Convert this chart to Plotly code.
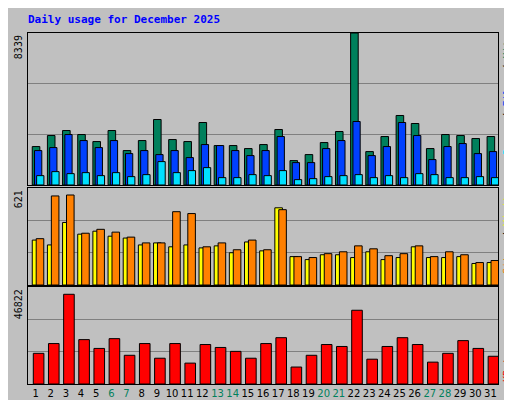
"""Webalizer style daily usage chart"""
import plotly.graph_objs as go

days = list(range(1, 32))
weekend = [6, 7, 13, 14, 20, 21, 27, 28]

hits = [2108, 2713, 2988, 2768, 2383, 2988, 1888, 2438, 3593, 2493, 2383, 3428, 2163, 2163, 1998, 2218,
        3043, 1338, 1668, 2328, 2933, 8339, 1833, 2658, 3813, 3373, 1998, 2768, 2713, 2548, 2658]
files = [1888, 2053, 2768, 2438, 2053, 2438, 1723, 1888, 1668, 1888, 1503, 2218, 2163, 1888, 1613, 1888,
         2658, 1228, 1228, 1998, 2438, 3483, 1613, 2108, 3428, 2713, 1393, 2108, 2273, 1723, 1833]
pages = [513, 733, 623, 678, 513, 678, 458, 568, 1283, 678, 788, 953, 403, 403, 568, 513,
         788, 293, 348, 458, 513, 568, 403, 513, 403, 623, 568, 403, 403, 458, 403]
visits = [288, 257, 401, 326, 345, 313, 301, 257, 270, 245, 257, 238, 251, 207, 276, 219,
          495, 182, 163, 194, 194, 176, 213, 163, 176, 245, 176, 176, 182, 138, 144]
sites = [297, 571, 577, 332, 357, 339, 307, 270, 270, 470, 458, 245, 270, 226, 288, 226,
         483, 182, 176, 201, 213, 251, 232, 188, 201, 251, 182, 213, 194, 144, 157]
kbytes = [14820, 19550, 43360, 21450, 17190, 21920, 13880, 19550, 12460, 19550, 10090, 19080, 17660, 15770,
          12460, 19550, 22390, 8200, 13880, 19080, 18130, 35640, 11990, 18130, 22390, 19080, 10570, 14820,
          20970, 17190, 13400]

max_hits = 8339
max_visits = 621
max_kb = 46822

tick_text = ['<span style="color:#00805C">%d</span>' % d if d in weekend else str(d) for d in days]

line = dict(color='black', width=1)
fig = go.Figure()
fig.add_trace(go.Bar(x=days, y=hits, offset=-0.22, width=0.5, marker=dict(color='#00805C', line=line),
                     xaxis='x', yaxis='y'))
fig.add_trace(go.Bar(x=days, y=files, offset=-0.07, width=0.48, marker=dict(color='#0040FF', line=line),
                     xaxis='x', yaxis='y'))
fig.add_trace(go.Bar(x=days, y=pages, offset=0.07, width=0.48, marker=dict(color='#00E0FF', line=line),
                     xaxis='x', yaxis='y'))
fig.add_trace(go.Bar(x=days, y=visits, offset=-0.22, width=0.5, marker=dict(color='#FFFF00', line=line),
                     xaxis='x2', yaxis='y2'))
fig.add_trace(go.Bar(x=days, y=sites, offset=0.04, width=0.5, marker=dict(color='#FF8000', line=line),
                     xaxis='x2', yaxis='y2'))
fig.add_trace(go.Bar(x=days, y=kbytes, offset=-0.15, width=0.7, marker=dict(color='#FF0000', line=line),
                     xaxis='x3', yaxis='y3'))

font = dict(family='DejaVu Sans Mono', size=10, color='black')
xbase = dict(range=[0.5, 31.5], showgrid=False, zeroline=False, showline=True, linecolor='black',
             mirror=True, ticks='', fixedrange=True, automargin=False)


def yax(mx, dom):
    return dict(domain=dom, range=[0, mx], tickvals=[mx / 3, mx * 2 / 3], showticklabels=False,
                gridcolor='#808080', zeroline=False, showline=True, linecolor='black', mirror=True,
                automargin=False)


fig.update_layout(
    width=512, height=400, showlegend=False, barmode='overlay',
    paper_bgcolor='#C0C0C0', plot_bgcolor='#C0C0C0', font=font,
    margin=dict(l=20, r=22, t=25, b=24),
    xaxis=dict(xbase, anchor='y', showticklabels=False),
    xaxis2=dict(xbase, anchor='y2', showticklabels=False),
    xaxis3=dict(xbase, anchor='y3', tickvals=days, ticktext=tick_text, tickangle=0,
                tickfont=dict(family='DejaVu Sans', size=10)),
    yaxis=yax(max_hits, [0.567, 1.0]),
    yaxis2=yax(max_visits, [0.282, 0.558]),
    yaxis3=yax(max_kb, [0.0, 0.276]),
    annotations=[
        dict(text='<b>Daily usage for December 2025</b>', x=-0.005, y=1.015, xref='paper', yref='paper',
             xanchor='left', yanchor='bottom', showarrow=False,
             font=dict(family='DejaVu Sans Mono', size=11, color='#0000FF')),
        dict(text=str(max_hits), x=-0.005, y=1.0, xref='paper', yref='paper', textangle=-90,
             xanchor='right', yanchor='top', showarrow=False),
        dict(text=str(max_visits), x=-0.005, y=0.558, xref='paper', yref='paper', textangle=-90,
             xanchor='right', yanchor='top', showarrow=False),
        dict(text=str(max_kb), x=-0.005, y=0.276, xref='paper', yref='paper', textangle=-90,
             xanchor='right', yanchor='top', showarrow=False),
        dict(text='<span style="color:#00E0FF">Pages</span> / <span style="color:#0040FF">Files</span>'
                  ' / <span style="color:#00805C">Hits</span>',
             x=1.003, y=1.0, xref='paper', yref='paper', textangle=-90,
             xanchor='left', yanchor='top', showarrow=False),
        dict(text='<span style="color:#FF8000">Sites</span> / <span style="color:#FFFF00">Visits</span>',
             x=1.003, y=0.558, xref='paper', yref='paper', textangle=-90,
             xanchor='left', yanchor='top', showarrow=False),
        dict(text='<span style="color:#FF0000">KBytes</span>',
             x=1.003, y=0.0, xref='paper', yref='paper', textangle=-90,
             xanchor='left', yanchor='bottom', showarrow=False),
    ],
)

fig.write_html("out.html")
